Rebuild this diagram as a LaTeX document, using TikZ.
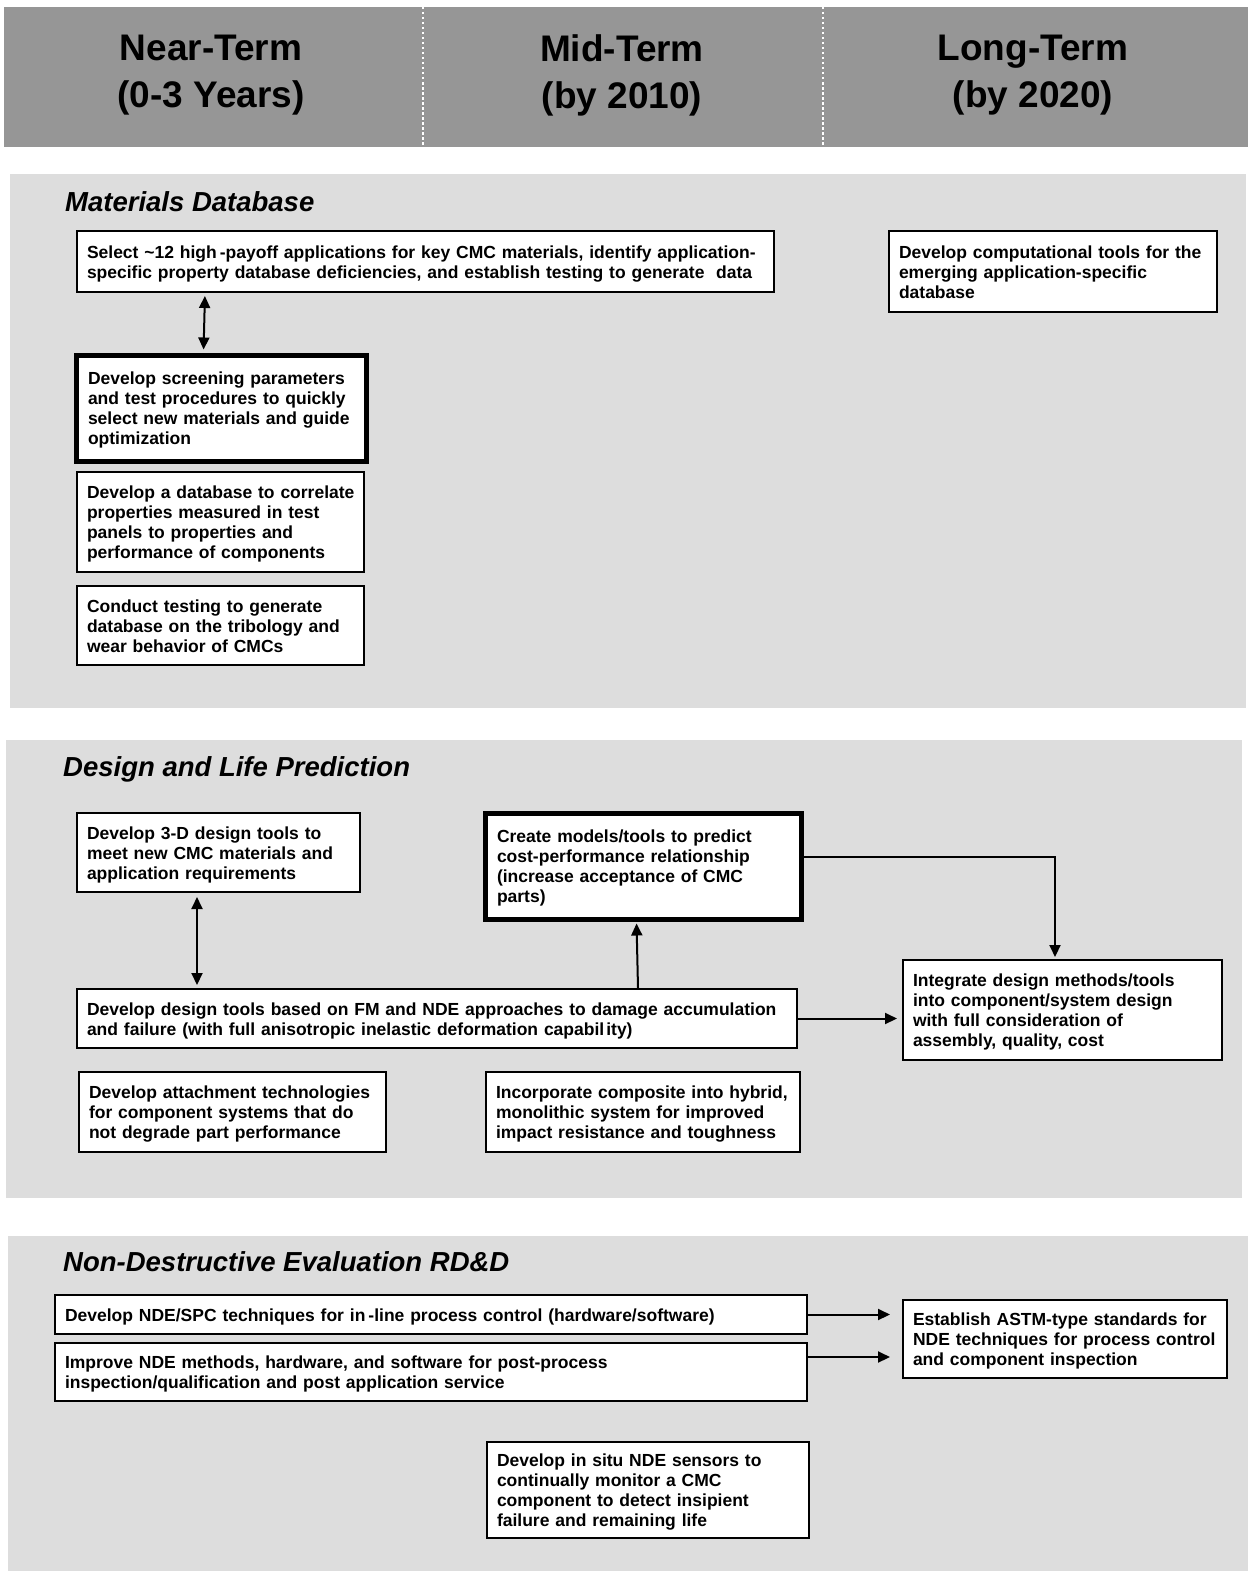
\documentclass[tikz,border=0pt]{standalone}
\usepackage{fontspec}
\setmainfont{Liberation Sans}
\usetikzlibrary{arrows.meta,calc}

\definecolor{headgray}{HTML}{969696}
\definecolor{panelgray}{HTML}{DDDDDD}

\newcommand{\boxfont}{\bfseries\fontsize{17.5pt}{20pt}\selectfont}
\newcommand{\titlefont}{\bfseries\itshape\fontsize{27.5pt}{33pt}\selectfont}
\newcommand{\headfont}{\bfseries\fontsize{37pt}{47pt}\selectfont}
% set lines exactly as broken, with no re-wrapping, nudged slightly down
\newcommand{\boxlines}[1]{\raisebox{-2.5pt}[\height][\depth]{\begin{tabular}{@{}l@{}}#1\end{tabular}}}

\tikzset{
  box/.style={draw=black, line width=2pt, fill=white, align=left,
    inner xsep=10pt, inner ysep=0pt, font=\boxfont},
  thickbox/.style={box, line width=5pt, inner xsep=12pt},
  panel/.style={fill=panelgray, draw=none},
  sectitle/.style={anchor=west, inner sep=0pt, font=\titlefont},
  headtext/.style={align=center, inner sep=0pt, font=\headfont},
  divider/.style={white, line width=2.5pt, dash pattern=on 2.5pt off 2.5pt},
  link/.style={line width=2pt, -{Triangle[length=12pt,width=11pt]}},
  twoway/.style={line width=2pt, {Triangle[length=12pt,width=11pt]}-{Triangle[length=12pt,width=11pt]}},
}

\begin{document}
\begin{tikzpicture}[x=1pt,y=-1pt]
\useasboundingbox (0,0) rectangle (1248,1571);

% ---- time-frame header ----
\fill[headgray] (4,7) rectangle (1248,147);
\draw[divider] (423,7) -- (423,147);
\draw[divider] (823,7) -- (823,147);
\node[headtext] (hnear) at (211,75) {Near-Term\\(0-3 Years)};
\node[headtext] (hmid)  at (622,75) {Mid-Term\\(by 2010)};
\node[headtext] (hlong) at (1033,75) {Long-Term\\(by 2020)};

% ---- section backgrounds ----
\fill[panel] (10,174) rectangle (1246,708);
\fill[panel] (6,740) rectangle (1242,1198);
\fill[panel] (8,1236) rectangle (1248,1571);

\node[sectitle] (tmat) at (65,202) {Materials Database};
\node[sectitle] (tdes) at (63,769) {Design and Life Prediction};
\node[sectitle] (tnde) at (63,1262) {Non-Destructive Evaluation RD\&D};

% ---- Materials Database ----
\node[box, minimum width=697pt, minimum height=61pt, text width=677pt] (sel) at (425.5,261.5)
  {\boxlines{Select \textasciitilde12 high\hspace{3pt}-payoff applications for key CMC materials, identify application-\\specific property database deficiencies, and establish testing to generate\ \ data}};
\node[thickbox, minimum width=290pt, minimum height=106pt, text width=266pt] (screen) at (221,408)
  {\boxlines{Develop screening parameters\\and test procedures to quickly\\select new materials and guide\\optimization}};
\node[box, minimum width=287pt, minimum height=100pt, text width=267pt] (corr) at (220.5,522)
  {\boxlines{Develop a database to correlate\\properties measured in test\\panels to properties and\\performance of components}};
\node[box, minimum width=287pt, minimum height=79pt, text width=267pt] (trib) at (220.5,625.5)
  {\boxlines{Conduct testing to generate\\database on the tribology and\\wear behavior of CMCs}};
\node[box, minimum width=328pt, minimum height=81pt, text width=308pt] (comp) at (1053,271.5)
  {\boxlines{Develop computational tools for the\\emerging application-specific\\database}};

\draw[twoway, shorten <=3pt, shorten >=3pt] ([xshift=129pt]sel.south west) -- ([xshift=130pt]screen.north west);

% ---- Design and Life Prediction ----
\node[box, minimum width=283pt, minimum height=79pt, text width=263pt] (tools3d) at (218.5,852.5)
  {\boxlines{Develop 3-D design tools to\\meet new CMC materials and\\application requirements}};
\node[thickbox, minimum width=316pt, minimum height=106pt, text width=292pt] (costmod) at (643,866)
  {\boxlines{Create models/tools to predict\\cost-performance relationship\\(increase acceptance of CMC\\parts)}};
\node[box, minimum width=720pt, minimum height=59pt, text width=700pt] (fmnde) at (437,1018.5)
  {\boxlines{Develop design tools based on FM and NDE approaches to damage accumulation\\and failure (with full anisotropic inelastic deformation capabil\hspace{2pt}ity)}};
\node[box, minimum width=319pt, minimum height=100pt, text width=299pt] (integ) at (1062.5,1010)
  {\boxlines{Integrate design methods/tools\\into component/system design\\with full consideration of\\assembly, quality, cost}};
\node[box, minimum width=307pt, minimum height=80pt, text width=287pt] (attach) at (232.5,1112)
  {\boxlines{Develop attachment technologies\\for component systems that do\\not degrade part performance}};
\node[box, minimum width=314pt, minimum height=80pt, text width=294pt] (hybrid) at (643,1112)
  {\boxlines{Incorporate composite into hybrid,\\monolithic system for improved\\impact resistance and toughness}};

\draw[twoway, shorten <=4pt, shorten >=3pt] ([xshift=121pt]tools3d.south west) -- ([xshift=121pt]fmnde.north west);
\draw[link, shorten >=2pt] ([xshift=562pt]fmnde.north west) -- ([xshift=154pt]costmod.south west);
\draw[link, shorten >=2pt] ([yshift=9pt]costmod.east) -| ([xshift=-7.5pt]integ.north);
\draw[link, shorten >=5pt] (fmnde.east) -- (fmnde.east -| integ.west);

% ---- Non-Destructive Evaluation RD&D ----
\node[box, minimum width=752pt, minimum height=39pt, text width=732pt] (spc) at (431,1314.5)
  {\boxlines{Develop NDE/SPC techniques for in\hspace{3pt}-line process control (hardware/software)}};
\node[box, minimum width=752pt, minimum height=58pt, text width=732pt] (post) at (431,1372)
  {\boxlines{Improve NDE methods, hardware, and software for post-process\\inspection/qualification and post application service}};
\node[box, minimum width=322pt, minimum height=96pt, text width=302pt] (insitu) at (648,1490)
  {\boxlines{Develop in situ NDE sensors to\\continually monitor a CMC\\component to detect insipient\\failure and remaining life}};
\node[box, minimum width=324pt, minimum height=78pt, text width=304pt] (astm) at (1065,1339)
  {\boxlines{Establish ASTM-type standards for\\NDE techniques for process control\\and component inspection}};

\draw[link, shorten >=12pt] (spc.east) -- (spc.east -| astm.west);
\draw[link, shorten >=12pt] ([yshift=15pt]post.east) -- ([yshift=15pt]post.east -| astm.west);
\end{tikzpicture}
\end{document}
